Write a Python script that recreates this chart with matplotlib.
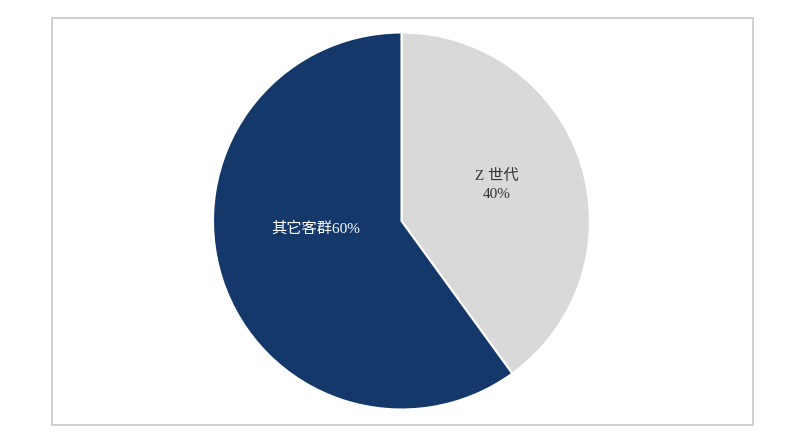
import matplotlib.pyplot as plt
from matplotlib.patches import Rectangle

labels = ['Z 世代', '其它客群']
shares = [40, 60]
colors = ['#d9d9d9', '#15386b']

plt.rcParams['font.family'] = ['Liberation Serif', 'Noto Sans CJK SC']

fig = plt.figure(figsize=(8.04, 4.38), dpi=100)
fig.patches.append(Rectangle((52/804, 1-425/438), 701/804, 407/438,
                             transform=fig.transFigure, fill=False,
                             edgecolor='#c8c8c8', linewidth=1.2))

ax = fig.add_axes([213/804, 28.5/438, 377/804, 377/438])
ax.pie(shares, colors=colors, startangle=90, counterclock=False, radius=1,
       wedgeprops=dict(edgecolor='white', linewidth=1.5))
ax.set_xlim(-1, 1)
ax.set_ylim(-1, 1)
ax.set_aspect('equal')
ax.axis('off')

ax.text(0.507, 0.19, labels[0] + '\n' + str(shares[0]) + '%', ha='center', va='center',
        fontsize=11, color='#333333', linespacing=1.45)
ax.text(-0.454, -0.04, labels[1] + str(shares[1]) + '%', ha='center', va='center',
        fontsize=11, color='white')

fig.savefig('out.png', dpi=100)
